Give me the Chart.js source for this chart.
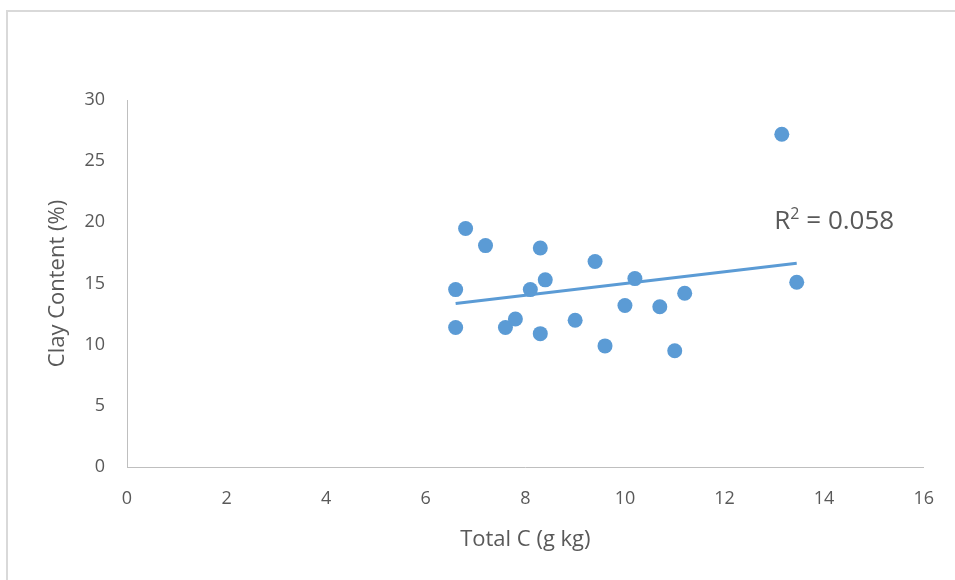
<!DOCTYPE html>
<html>
<head>
<meta charset="utf-8">
<title>Clay content vs total C</title>
<script src="https://cdn.jsdelivr.net/npm/chart.js@4"></script>
<style>
  html, body { margin: 0; padding: 0; background: #fff; }
  #wrap { position: relative; width: 955px; height: 580px; }
  #frame {
    position: absolute; left: 6px; top: 10px; right: 0; bottom: 0;
    border-top: 2px solid #d9d9d9; border-left: 2px solid #d9d9d9;
    pointer-events: none;
  }
</style>
</head>
<body>
<div id="wrap">
  <canvas id="scatterChart" width="955" height="580"></canvas>
  <div id="frame"></div>
</div>
<script>
// values
const totalC = [6.6, 6.6, 6.8, 7.2, 7.6, 7.8, 8.1, 8.3, 8.3, 8.4,
                9.0, 9.4, 9.6, 10.0, 10.2, 10.7, 11.0, 11.2, 13.15, 13.45];
const clay = [14.5, 11.4, 19.5, 18.1, 11.4, 12.1, 14.5, 17.9, 10.9, 15.3,
              12.0, 16.8, 9.9, 13.2, 15.4, 13.1, 9.5, 14.2, 27.2, 15.1];
const xTitle = "Total C (g kg)";
const yTitle = "Clay Content (%)";
const r2Text = "0.058";

const blue = "#5b9bd5";
const grey = "#595959";
const font = "'Open Sans', 'DejaVu Sans', sans-serif";

// least squares trendline over the points
function linearFit(xs, ys) {
  const n = xs.length;
  const mx = xs.reduce((a, b) => a + b, 0) / n;
  const my = ys.reduce((a, b) => a + b, 0) / n;
  let sxy = 0, sxx = 0;
  for (let i = 0; i < n; i++) {
    sxy += (xs[i] - mx) * (ys[i] - my);
    sxx += (xs[i] - mx) * (xs[i] - mx);
  }
  const slope = sxy / sxx;
  return { slope, intercept: my - slope * mx };
}

const fit = linearFit(totalC, clay);
const xMin = Math.min(...totalC);
const xMax = Math.max(...totalC);
const trend = [
  { x: xMin, y: fit.intercept + fit.slope * xMin },
  { x: xMax, y: fit.intercept + fit.slope * xMax },
];

const points = totalC.map((x, i) => ({ x, y: clay[i] }));

// R² label next to the end of the trendline
const r2Label = {
  id: "r2Label",
  afterDatasetsDraw(chart) {
    const { ctx, scales } = chart;
    const x = scales.x.getPixelForValue(13.0);
    const y = scales.y.getPixelForValue(19.45);
    ctx.save();
    ctx.fillStyle = grey;
    ctx.textBaseline = "alphabetic";
    ctx.textAlign = "left";
    ctx.font = "26px " + font;
    ctx.fillText("R", x, y);
    let w = ctx.measureText("R").width;
    ctx.font = "16px " + font;
    ctx.fillText("2", x + w, y - 10);
    w += ctx.measureText("2").width;
    ctx.font = "26px " + font;
    ctx.fillText(" = " + r2Text, x + w, y);
    ctx.restore();
  },
};

new Chart(document.getElementById("scatterChart"), {
  type: "scatter",
  data: {
    datasets: [
      {
        label: "Clay",
        data: points,
        backgroundColor: blue,
        borderWidth: 0,
        pointRadius: 7.5,
        pointHoverRadius: 7.5,
        order: 2,
      },
      {
        label: "Trend",
        type: "line",
        data: trend,
        borderColor: blue,
        borderWidth: 3,
        pointRadius: 0,
        fill: false,
        order: 1,
      },
    ],
  },
  options: {
    responsive: false,
    animation: false,
    layout: { padding: { top: 100, right: 29, left: 0, bottom: 0 } },
    plugins: { legend: { display: false }, tooltip: { enabled: false } },
    scales: {
      x: {
        type: "linear",
        min: 0,
        max: 16,
        ticks: { stepSize: 2, color: grey, padding: 21, font: { family: font, size: 18 } },
        grid: { display: false, drawTicks: false },
        border: { display: true, color: "#bfbfbf", width: 1 },
        title: {
          display: true,
          text: xTitle,
          color: grey,
          font: { family: font, size: 22 },
          padding: { top: 0, bottom: 27 },
        },
        afterFit(scale) { scale.height = 113; },
      },
      y: {
        min: 0,
        max: 30,
        ticks: { stepSize: 5, color: grey, padding: 22, font: { family: font, size: 18 } },
        grid: { display: false, drawTicks: false },
        border: { display: true, color: "#bfbfbf", width: 1 },
        title: {
          display: true,
          text: yTitle,
          color: grey,
          font: { family: font, size: 22 },
          padding: { top: 45, bottom: 0 },
        },
        afterFit(scale) { scale.width = 127; },
      },
    },
  },
  plugins: [r2Label],
});
</script>
</body>
</html>
